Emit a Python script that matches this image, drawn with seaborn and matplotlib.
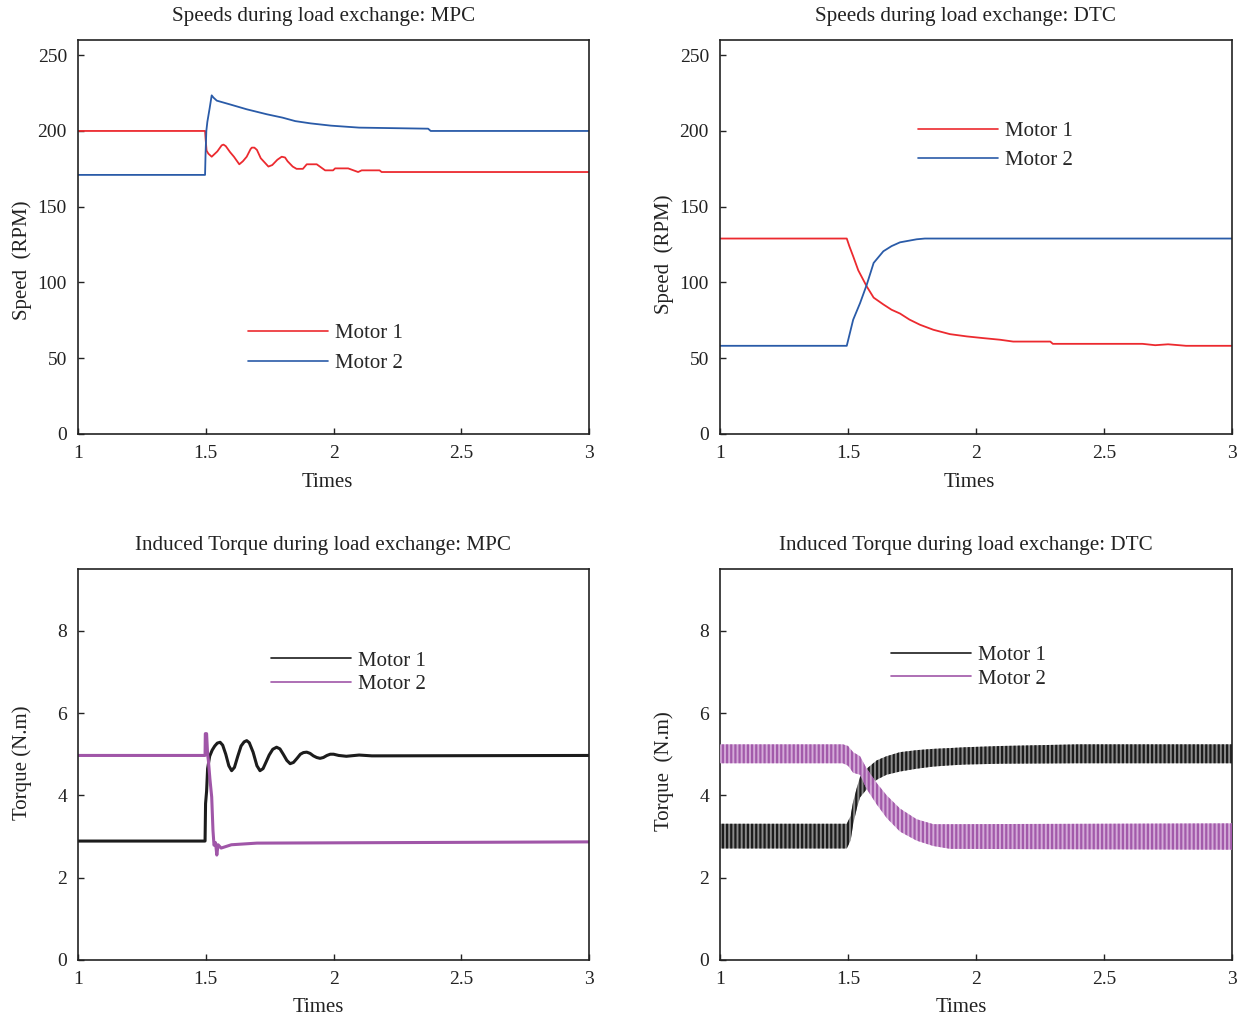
import matplotlib
matplotlib.use("Agg")
import matplotlib.pyplot as plt
import seaborn as sns
from matplotlib.lines import Line2D

sns.set_style("ticks")
plt.rcParams["font.family"] = ["Liberation Serif", "DejaVu Serif"]
plt.rcParams["hatch.linewidth"] = 1.6

RED = "#ec2a2f"
BLUE = "#2a5ba8"
BLACK = "#1c1c1c"
PURPLE = "#a056a8"

x_ticks = [1, 1.5, 2, 2.5, 3]
x_tick_labels = ["1", "1.5", "2", "2.5", "3"]
speed_ticks = [0, 50, 100, 150, 200, 250]
torque_ticks = [0, 2, 4, 6, 8]

# Speeds, MPC
mpc_m1_t = [1.0, 1.497, 1.499, 1.503, 1.51, 1.523, 1.545, 1.562, 1.569, 1.578, 1.595, 1.61,
            1.631, 1.645, 1.66, 1.675, 1.68, 1.69, 1.70, 1.715, 1.745, 1.76, 1.78, 1.797,
            1.81, 1.82, 1.84, 1.855, 1.88, 1.895, 1.934, 1.967, 1.998, 2.006, 2.057, 2.096,
            2.11, 2.18, 2.188, 3.0]
mpc_m1_speed = [200, 200, 195, 187, 185, 183, 186.5, 190.5, 191, 190, 186, 183,
                178, 180, 183, 188, 189, 189, 187.5, 182, 176.5, 177.5, 181, 183,
                182.5, 180, 176.5, 175, 175, 178, 178, 174, 174, 175.3, 175.3, 172.9,
                174, 174, 172.9, 172.9]
mpc_m2_t = [1.0, 1.497, 1.499, 1.502, 1.506, 1.515, 1.523, 1.53, 1.543, 1.595, 1.66, 1.739,
            1.80, 1.85, 1.91, 1.99, 2.1, 2.37, 2.38, 3.0]
mpc_m2_speed = [171, 171, 185, 200, 206, 215, 223.5, 222, 220, 217.5, 214.3, 211,
                208.8, 206.5, 205, 203.5, 202.2, 201.5, 200, 200]

# Speeds, DTC
dtc_m1_t = [1.0, 1.495, 1.505, 1.52, 1.54, 1.573, 1.60, 1.638, 1.67, 1.703, 1.74, 1.781,
            1.833, 1.898, 1.964, 2.027, 2.094, 2.145, 2.29, 2.30, 2.65, 2.70, 2.75, 2.80,
            2.82, 3.0]
dtc_m1_speed = [129, 129, 124, 117.3, 108, 97.4, 90, 85.5, 82, 79.5, 75.5, 72.1,
                68.8, 65.9, 64.4, 63.3, 62.2, 61, 61, 59.5, 59.5, 58.6, 59.2, 58.5,
                58.2, 58.2]
dtc_m2_t = [1.0, 1.495, 1.52, 1.547, 1.573, 1.60, 1.638, 1.67, 1.703, 1.768, 1.80, 3.0]
dtc_m2_speed = [58.2, 58.2, 75.4, 86.4, 98.5, 112.9, 120.6, 124, 126.5, 128.5, 129, 129]

# Torques, MPC
mpc_tq1_t = [1.0, 1.497, 1.499, 1.503, 1.507, 1.515, 1.525, 1.535, 1.545, 1.556, 1.566, 1.578,
             1.59, 1.601, 1.612, 1.625, 1.638, 1.65, 1.660, 1.67, 1.685, 1.70, 1.712, 1.724,
             1.735, 1.748, 1.762, 1.777, 1.79, 1.803, 1.817, 1.830, 1.843, 1.857, 1.87, 1.882,
             1.895, 1.908, 1.921, 1.934, 1.947, 1.96, 1.974, 1.987, 2.0, 2.02, 2.05, 2.1,
             2.15, 3.0]
mpc_tq1 = [2.89, 2.89, 3.8, 4.1, 4.65, 4.95, 5.1, 5.2, 5.27, 5.29, 5.22, 5.0,
           4.72, 4.6, 4.68, 4.95, 5.2, 5.3, 5.33, 5.28, 5.05, 4.72, 4.6, 4.65,
           4.8, 4.98, 5.12, 5.17, 5.13, 5.0, 4.85, 4.77, 4.8, 4.9, 5.0, 5.04,
           5.05, 5.02, 4.96, 4.92, 4.9, 4.92, 4.97, 5.0, 5.0, 4.97, 4.95, 4.98,
           4.96, 4.97]
mpc_tq2_t = [1.0, 1.497, 1.498, 1.503, 1.507, 1.51, 1.516, 1.523, 1.528, 1.532, 1.538, 1.543,
             1.548, 1.56, 1.60, 1.70, 3.0]
mpc_tq2 = [4.97, 4.97, 5.5, 5.5, 5.0, 4.85, 4.4, 3.96, 3.15, 2.79, 2.85, 2.55,
           2.8, 2.72, 2.8, 2.84, 2.87]

# Torques, DTC (ripple band: lower / upper envelope)
dtc_tq1_t = [1.0, 1.495, 1.51, 1.52, 1.535, 1.547, 1.573, 1.612, 1.65, 1.703, 1.77, 1.833,
             1.90, 1.96, 2.1, 2.4, 3.0]
dtc_tq1_lo = [2.71, 2.71, 2.9, 3.3, 3.7, 3.95, 4.15, 4.38, 4.5, 4.58, 4.65, 4.70,
              4.73, 4.75, 4.77, 4.78, 4.78]
dtc_tq1_hi = [3.31, 3.31, 3.5, 3.85, 4.2, 4.45, 4.65, 4.85, 4.95, 5.05, 5.1, 5.13,
              5.15, 5.17, 5.2, 5.24, 5.24]
dtc_tq2_t = [1.0, 1.48, 1.50, 1.52, 1.547, 1.573, 1.612, 1.651, 1.703, 1.768, 1.833, 1.90, 3.0]
dtc_tq2_lo = [4.78, 4.78, 4.72, 4.55, 4.5, 4.15, 3.78, 3.45, 3.12, 2.9, 2.77, 2.70, 2.68]
dtc_tq2_hi = [5.24, 5.24, 5.2, 5.05, 4.95, 4.65, 4.3, 4.0, 3.68, 3.42, 3.3, 3.3, 3.32]


def style_axes(ax, title, ylabel, yticks, ylim, label_y, xlab_x, xlab_y):
    ax.set_xlim(1, 3)
    ax.set_ylim(*ylim)
    ax.set_xticks(x_ticks)
    ax.set_xticklabels(x_tick_labels)
    ax.set_yticks(yticks)
    ax.tick_params(direction="in", length=4, width=1, labelsize=14, pad=8,
                   top=False, right=False, colors="#222222", labelcolor="#222222")
    for sp in ax.spines.values():
        sp.set_visible(True)
        sp.set_linewidth(1.2)
        sp.set_color("#222222")
    ax.set_title(title, fontsize=15.2, pad=14, x=0.48, color="#222222")
    ax.set_xlabel("Times", fontsize=15, color="#222222")
    ax.set_ylabel(ylabel, fontsize=15, color="#222222")
    ax.xaxis.set_label_coords(xlab_x, xlab_y)
    ax.yaxis.set_label_coords(-0.09, label_y)


def add_legend(ax, colors, x, y, spacing):
    handles = [Line2D([], [], color=c, lw=1.2) for c in colors]
    ax.legend(handles, ["Motor 1", "Motor 2"], loc="center left", bbox_to_anchor=(x, y),
              frameon=False, fontsize=15, handlelength=3.85, handletextpad=0.3,
              labelspacing=spacing, borderpad=0, borderaxespad=0)


fig = plt.figure(figsize=(12.41, 10.19), dpi=100)
ax_tl = fig.add_axes([0.0629, 0.5741, 0.4118, 0.3866])
ax_tr = fig.add_axes([0.5802, 0.5741, 0.4126, 0.3866])
ax_bl = fig.add_axes([0.0629, 0.0579, 0.4118, 0.3837])
ax_br = fig.add_axes([0.5802, 0.0579, 0.4126, 0.3837])

# speeds MPC
sns.lineplot(x=mpc_m1_t, y=mpc_m1_speed, ax=ax_tl, color=RED, lw=1.3, estimator=None, sort=False)
sns.lineplot(x=mpc_m2_t, y=mpc_m2_speed, ax=ax_tl, color=BLUE, lw=1.3, estimator=None, sort=False)
style_axes(ax_tl, "Speeds during load exchange: MPC", "Speed  (RPM)", speed_ticks, (0, 260),
           0.44, 0.487, -0.1)
add_legend(ax_tl, [RED, BLUE], 0.333, 0.218, 0.5)

# speeds DTC
sns.lineplot(x=dtc_m1_t, y=dtc_m1_speed, ax=ax_tr, color=RED, lw=1.3, estimator=None, sort=False)
sns.lineplot(x=dtc_m2_t, y=dtc_m2_speed, ax=ax_tr, color=BLUE, lw=1.3, estimator=None, sort=False)
style_axes(ax_tr, "Speeds during load exchange: DTC", "Speed  (RPM)", speed_ticks, (0, 260),
           0.455, 0.486, -0.1)
add_legend(ax_tr, [RED, BLUE], 0.387, 0.732, 0.45)

# torques MPC
sns.lineplot(x=mpc_tq1_t, y=mpc_tq1, ax=ax_bl, color=BLACK, lw=2.2, estimator=None, sort=False)
sns.lineplot(x=mpc_tq2_t, y=mpc_tq2, ax=ax_bl, color=PURPLE, lw=2.2, estimator=None, sort=False)
style_axes(ax_bl, "Induced Torque during load exchange: MPC", "Torque (N.m)", torque_ticks, (0, 9.5),
           0.504, 0.47, -0.096)
add_legend(ax_bl, [BLACK, PURPLE], 0.378, 0.735, 0.18)

# torques DTC: dense ripple drawn as a hatched band between envelopes
plt.rcParams["hatch.color"] = BLACK
ax_br.fill_between(dtc_tq1_t, dtc_tq1_lo, dtc_tq1_hi, facecolor="#8a8a8a", edgecolor=BLACK,
                   hatch="||||", linewidth=0, zorder=2)
plt.rcParams["hatch.color"] = PURPLE
ax_br.fill_between(dtc_tq2_t, dtc_tq2_lo, dtc_tq2_hi, facecolor="#d2a6d6", edgecolor=PURPLE,
                   hatch="||||", linewidth=0, zorder=3, alpha=0.95)
style_axes(ax_br, "Induced Torque during load exchange: DTC", "Torque  (N.m)", torque_ticks, (0, 9.5),
           0.483, 0.471, -0.096)
add_legend(ax_br, [BLACK, PURPLE], 0.334, 0.749, 0.18)

fig.savefig("out.png", dpi=100)
plt.close(fig)
